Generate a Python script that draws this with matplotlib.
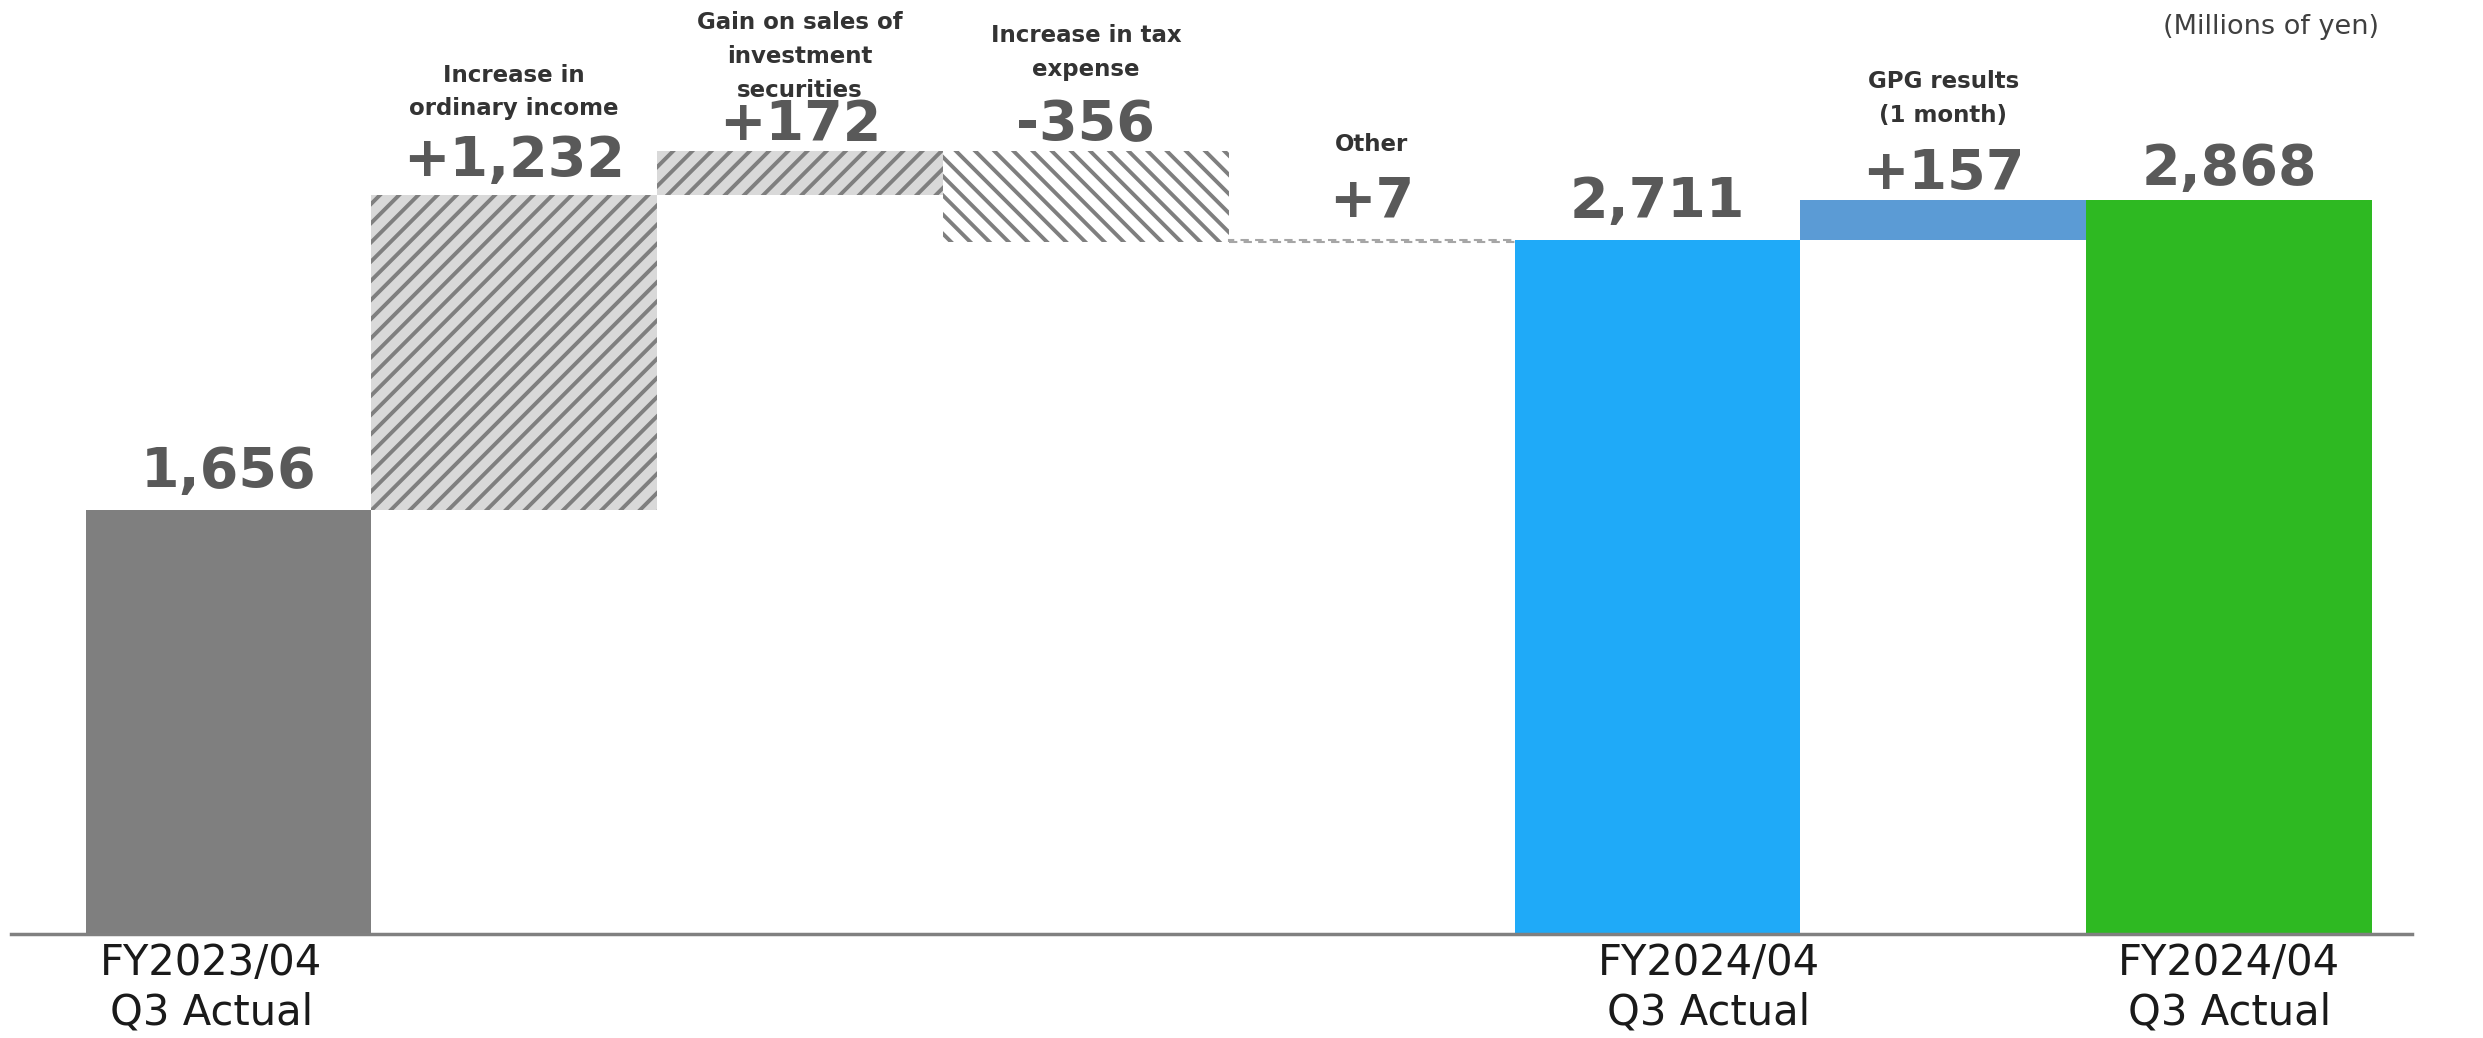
import numpy as np
import matplotlib.pyplot as plt

DPI = 115
P = 100 / DPI   # sizes below were tuned for 100 dpi

plt.rcParams['font.family'] = ['DejaVu Sans']
plt.rcParams['hatch.linewidth'] = 2.8 * P

# waterfall data (millions of yen)
steps = ["FY2023/04 Q3", "Increase in ordinary income", "Gain on sales",
         "Increase in tax", "Other", "FY2024/04 Q3", "GPG results", "FY2024/04 Q3 incl."]
values = [1656, 1232, 172, -356, 7, 2711, 157, 2868]
is_total = [True, False, False, False, False, True, False, True]
top_labels = ["", "Increase in\nordinary income", "Gain on sales of\ninvestment\nsecurities",
              "Increase in tax\nexpense", "Other", "", "GPG results\n(1 month)", ""]
xtick_pos = [-0.06, 5.18, 7]
xtick_labels = ["FY2023/04\nQ3 Actual", "FY2024/04\nQ3 Actual", "FY2024/04\nQ3 Actual"]

# styles
face = ['#7f7f7f', '#d9d9d9', '#d9d9d9', 'white', 'white', '#1faaf8', '#5b9bd5', '#2eb922']
hatches = [None, '//', '//', '\\\\', None, None, None, None]
num_off = [16.7, 13.3, 7.6, 7.6, 16.7, 16.7, 7.6, 11]      # points above bar top
label_off = [0, 57, 38.6, 53.7, 64, 0, 56, 0]            # points above bar top

fig = plt.figure(figsize=(2483 / DPI, 1038 / DPI), dpi=DPI)
ax = fig.add_axes([0.0044, 0.1002, 0.9670, 0.8998])

x = np.arange(len(values))
bottoms = []
tops = []
running = 0
for v, tot in zip(values, is_total):
    if tot:
        bottoms.append(0)
        running = v
        tops.append(v)
    else:
        b = running if v > 0 else running + v
        bottoms.append(b)
        running += v
        tops.append(b + abs(v))

for i in range(len(values)):
    if steps[i] == "Other":
        ax.bar(x[i], abs(values[i]), bottom=bottoms[i], width=1.0, color='white',
               edgecolor='#a6a6a6', linestyle=(0, (4, 3)), linewidth=1.5 * P)
    elif hatches[i]:
        ax.bar(x[i], abs(values[i]), bottom=bottoms[i], width=1.0, facecolor=face[i],
               edgecolor='#7f7f7f', hatch=hatches[i], linewidth=0)
    else:
        ax.bar(x[i], abs(values[i]), bottom=bottoms[i], width=1.0, color=face[i], linewidth=0)

    if is_total[i]:
        txt = f"{values[i]:,}"
    else:
        txt = f"{values[i]:+,}"
    ax.annotate(txt, (x[i], tops[i]), xytext=(0, num_off[i] * P), textcoords='offset points',
                ha='center', va='baseline', fontsize=40 * P, fontweight='bold', color='#595959')
    if top_labels[i]:
        ax.annotate(top_labels[i], (x[i], tops[i]), xytext=(0, label_off[i] * P),
                    textcoords='offset points', ha='center', va='baseline',
                    fontsize=16.5 * P, fontweight='bold', color='#333333', linespacing=1.6)

ax.set_xlim(-0.761, 7.64)
ax.set_ylim(0, 3648)
ax.set_xticks(xtick_pos)
ax.set_xticklabels(xtick_labels, fontsize=30 * P, color='#1a1a1a', linespacing=1.22)
ax.tick_params(axis='x', length=0, pad=6 * P)
ax.set_yticks([])
for s in ['top', 'right', 'left']:
    ax.spines[s].set_visible(False)
ax.spines['bottom'].set_color('#808080')
ax.spines['bottom'].set_linewidth(2.5 * P)

fig.text(0.958, 0.974, "(Millions of yen)", ha='right', va='center', fontsize=19.5 * P,
         color='#404040')

fig.savefig("out.png", dpi=DPI)
